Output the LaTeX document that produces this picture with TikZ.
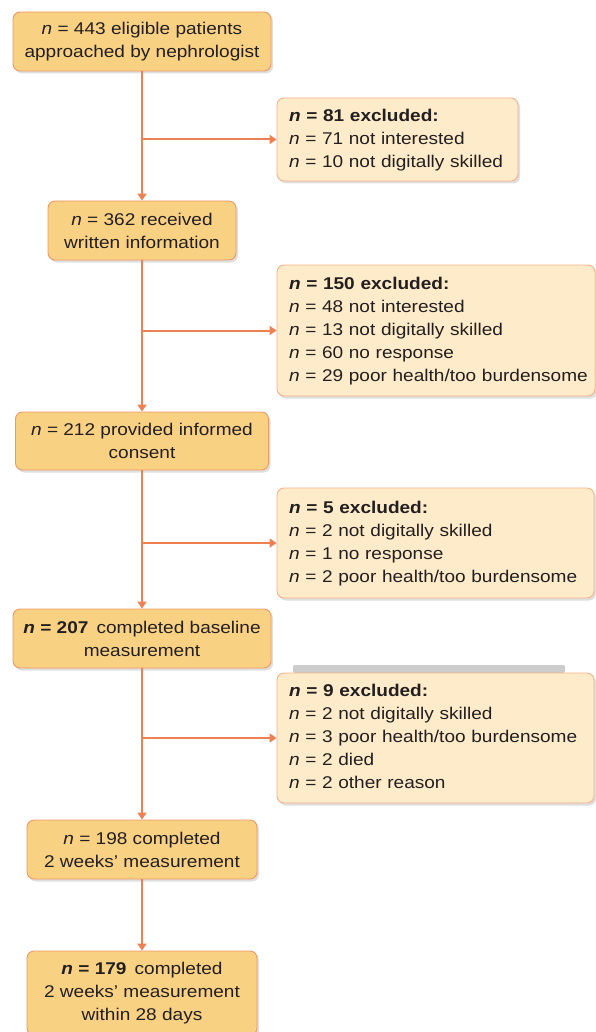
\documentclass[tikz,border=0pt]{standalone}
\usepackage{fontspec}
\setmainfont[FakeStretch=1.12]{Liberation Sans}
\usetikzlibrary{arrows.meta,shadows}
\definecolor{stagefill}{HTML}{F9D183}
\definecolor{stageline}{HTML}{EF9866}
\definecolor{exclfill}{HTML}{FDEBC9}
\definecolor{exclline}{HTML}{F5B18A}
\definecolor{flowcol}{HTML}{EE8052}
\definecolor{txt}{HTML}{231F20}

\begin{document}
\begin{tikzpicture}[x=1pt,y=1pt,
  every node/.style={font=\fontsize{17}{23}\selectfont,text=txt},
  stage/.style={draw=stageline,fill=stagefill,line width=0.9pt,rounded corners=7pt,
    inner sep=0pt,align=center,drop shadow={opacity=0.25,shadow xshift=2pt,shadow yshift=-2.5pt}},
  excl/.style={draw=exclline,fill=exclfill,line width=0.9pt,rounded corners=7pt,
    inner xsep=12pt,inner ysep=0pt,align=left,drop shadow={opacity=0.25,shadow xshift=2pt,shadow yshift=-2.5pt}},
  flow/.style={draw=flowcol,line width=2pt,-{Triangle[length=7pt,width=9pt]}}]

\useasboundingbox (0,0) rectangle (596,-1032);

\fill[black,opacity=0.2,rounded corners=2pt] (293,-665) rectangle (565,-673);

\node[stage,minimum width=258pt,minimum height=59pt] (approached) at (142,-41.5)
  {\textit{n} = 443 eligible patients\\approached by nephrologist};
\node[stage,minimum width=188pt,minimum height=59pt] (informed) at (142,-230.5)
  {\textit{n} = 362 received\\written information};
\node[stage,minimum width=253pt,minimum height=58pt] (consent) at (142,-441)
  {\textit{n} = 212 provided informed\\consent};
\node[stage,minimum width=258pt,minimum height=59pt] (baseline) at (142,-638.5)
  {\textbf{\textit{n} = 207}\, completed baseline\\measurement};
\node[stage,minimum width=230pt,minimum height=59pt] (twoweeks) at (142,-849.5)
  {\textit{n} = 198 completed\\2 weeks’ measurement};
\node[stage,minimum width=230pt,minimum height=84pt] (withinmonth) at (142,-993)
  {\textbf{\textit{n} = 179}\, completed\\2 weeks’ measurement\\within 28 days};

\node[excl,text width=217pt,minimum height=83pt] (exclA) at (397.5,-139.5)
  {\begin{tabular}{@{}l@{}}\textbf{\textit{n} = 81 excluded:}\\
   \textit{n} = 71 not interested\\
   \textit{n} = 10 not digitally skilled\end{tabular}};
\node[excl,text width=294pt,minimum height=131pt] (exclB) at (436,-330.5)
  {\begin{tabular}{@{}l@{}}\textbf{\textit{n} = 150 excluded:}\\
   \textit{n} = 48 not interested\\
   \textit{n} = 13 not digitally skilled\\
   \textit{n} = 60 no response\\
   \textit{n} = 29 poor health/too burdensome\end{tabular}};
\node[excl,text width=293pt,minimum height=110pt] (exclC) at (435.5,-543)
  {\begin{tabular}{@{}l@{}}\textbf{\textit{n} = 5 excluded:}\\
   \textit{n} = 2 not digitally skilled\\
   \textit{n} = 1 no response\\
   \textit{n} = 2 poor health/too burdensome\end{tabular}};
\node[excl,text width=293pt,minimum height=130pt] (exclD) at (435.5,-738)
  {\begin{tabular}{@{}l@{}}\textbf{\textit{n} = 9 excluded:}\\
   \textit{n} = 2 not digitally skilled\\
   \textit{n} = 3 poor health/too burdensome\\
   \textit{n} = 2 died\\
   \textit{n} = 2 other reason\end{tabular}};

\draw[flow] (approached) -- (informed);
\draw[flow] (informed) -- (consent);
\draw[flow] (consent) -- (baseline);
\draw[flow] (baseline) -- (twoweeks);
\draw[flow] (twoweeks) -- (withinmonth);

\draw[flow] (approached.south |- exclA.west) -- (exclA.west);
\draw[flow] (informed.south |- exclB.west) -- (exclB.west);
\draw[flow] (consent.south |- exclC.west) -- (exclC.west);
\draw[flow] (baseline.south |- exclD.west) -- (exclD.west);
\end{tikzpicture}
\end{document}
